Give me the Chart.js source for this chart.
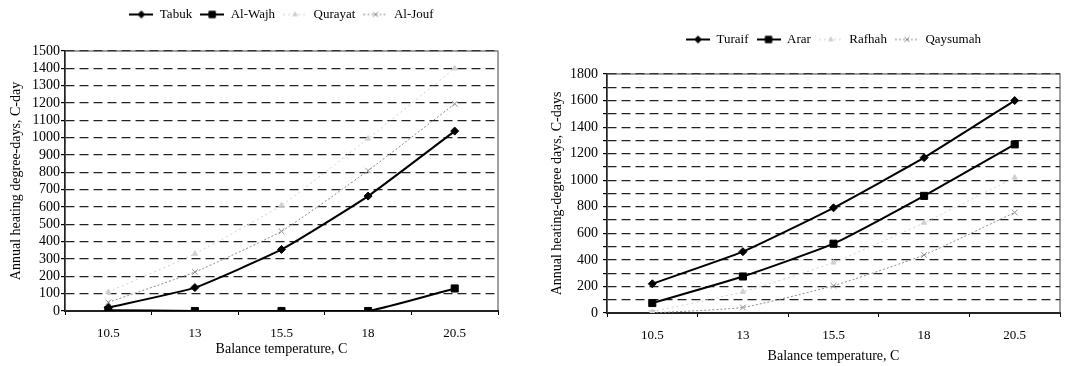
<!DOCTYPE html>
<html>
<head>
<meta charset="utf-8">
<script src="https://cdn.jsdelivr.net/npm/chart.js@4/dist/chart.umd.min.js"></script>
<style>
  body { margin: 0; background: #fff; }
  .box { position: absolute; top: 0; height: 366px; }
  #leftBox { left: 0; width: 530px; }
  #rightBox { left: 530px; width: 536px; }
</style>
</head>
<body>
<div class="box" id="leftBox"><canvas id="leftChart"></canvas></div>
<div class="box" id="rightBox"><canvas id="rightChart"></canvas></div>
<script>
const xLabels = ["10.5", "13", "15.5", "18", "20.5"];

// left panel
const tabuk = [20, 135, 355, 663, 1038];
const alWajh = [5, 0, 0, 0, 130];
const qurayat = [110, 330, 610, 995, 1400];
const alJouf = [50, 225, 460, 810, 1195];

// right panel
const turaif = [220, 462, 792, 1170, 1600];
const arar = [75, 275, 522, 882, 1270];
const rafhah = [10, 160, 380, 680, 1020];
const qaysumah = [0, 42, 205, 437, 757];

Chart.defaults.font.family = "'Liberation Serif', 'Times New Roman', serif";
Chart.defaults.font.size = 13;
Chart.defaults.color = "#000";

// series looks: [color, width, dash, marker, radius]
const looks = [
    ["#000", 2, [], "rectRot", 4],
    ["#000", 2, [], "rect", 5],
    ["#cfcfcf", 1, [2, 3], "triangle", 3],
    ["#8c8c8c", 1, [2, 2], "crossRot", 4]
];

function makeIcon(look) {
    let c = document.createElement("canvas");
    c.width = 24;
    c.height = 12;
    let ctx = c.getContext("2d");
    ctx.strokeStyle = look[0];
    ctx.fillStyle = look[0];
    ctx.lineWidth = look[1];
    ctx.setLineDash(look[2]);
    ctx.beginPath();
    ctx.moveTo(0, 6);
    ctx.lineTo(24, 6);
    ctx.stroke();
    ctx.setLineDash([]);
    ctx.lineWidth = 1;
    Chart.helpers.drawPoint(ctx, { pointStyle: look[3], radius: look[4] - 0.5, borderWidth: 1, rotation: 0 }, 12, 6);
    return c;
}
const icons = looks.map(makeIcon);

function makeDataset(name, values, i) {
    let l = looks[i];
    return {
        label: name,
        data: values,
        borderColor: l[0],
        backgroundColor: l[0],
        borderWidth: l[1],
        borderDash: l[2],
        pointStyle: l[3],
        pointRadius: l[4],
        pointBorderWidth: 1,
        tension: 0.15
    };
}

const frame = {
    id: "frame",
    beforeDatasetsDraw(chart) {
        let a = chart.chartArea;
        let ctx = chart.ctx;
        ctx.save();
        ctx.strokeStyle = "#444";
        ctx.lineWidth = 1;
        ctx.strokeRect(a.left, a.top, a.right - a.left, a.bottom - a.top);
        ctx.restore();
    }
};

function buildChart(id, sets, opt) {
    return new Chart(document.getElementById(id), {
        type: "line",
        data: { labels: xLabels, datasets: sets },
        plugins: [frame],
        options: {
            responsive: true,
            maintainAspectRatio: false,
            animation: false,
            layout: { padding: { top: opt.padTop, right: opt.padRight, left: 0, bottom: 0 } },
            plugins: {
                tooltip: { enabled: false },
                legend: {
                    position: "top",
                    fullSize: false,
                    labels: {
                        usePointStyle: true,
                        pointStyleWidth: 24,
                        padding: 8,
                        font: { size: 13 },
                        generateLabels: chart => Chart.defaults.plugins.legend.labels.generateLabels(chart)
                            .map((item, i) => Object.assign(item, { pointStyle: icons[i] }))
                    }
                }
            },
            scales: {
                x: {
                    offset: true,
                    grid: { display: true, drawOnChartArea: false, offset: true, tickLength: 4, color: "#000" },
                    border: { display: true, color: "#000", width: 2 },
                    ticks: { padding: 11, font: { size: 13 } },
                    title: { display: true, text: "Balance temperature, C", font: { size: 14 }, padding: { top: opt.xTitlePad, bottom: opt.xTitlePad } },
                    afterFit: s => { s.height = opt.xHeight; }
                },
                spacer: {
                    axis: "x",
                    type: "category",
                    position: "top",
                    grid: { display: false, drawTicks: false },
                    border: { display: false },
                    ticks: { display: false },
                    afterFit: s => { s.height = opt.gap; }
                },
                y: {
                    min: 0,
                    max: opt.yMax,
                    ticks: {
                        stepSize: 100,
                        autoSkip: false,
                        padding: opt.yTickPad,
                        font: { size: 14 },
                        callback: v => (v % opt.labelStep === 0 ? v : "")
                    },
                    grid: { color: "#222", lineWidth: 1.2, tickLength: 4, tickBorderDash: [], tickColor: "#000" },
                    border: { display: true, color: "#000", width: 1.5, dash: [9, 5] },
                    title: { display: true, text: opt.yTitle, font: { size: 14 }, padding: { top: opt.yTitlePad, bottom: 0 } },
                    afterFit: s => { s.width = opt.yWidth; }
                }
            }
        }
    });
}

buildChart("leftChart", [
    makeDataset("Tabuk", tabuk, 0),
    makeDataset("Al-Wajh", alWajh, 1),
    makeDataset("Qurayat", qurayat, 2),
    makeDataset("Al-Jouf", alJouf, 3)
], {
    padTop: 0, padRight: 32, gap: 20, xHeight: 55, xTitlePad: 8,
    yMax: 1500, labelStep: 100, yWidth: 65, yTickPad: 1, yTitlePad: 8,
    yTitle: "Annual heating degree-days, C-day"
});

buildChart("rightChart", [
    makeDataset("Turaif", turaif, 0),
    makeDataset("Arar", arar, 1),
    makeDataset("Rafhah", rafhah, 2),
    makeDataset("Qaysumah", qaysumah, 3)
], {
    padTop: 25, padRight: 1, gap: 18, xHeight: 53, xTitlePad: 1,
    yMax: 1800, labelStep: 200, yWidth: 77, yTickPad: 5, yTitlePad: 19,
    yTitle: "Annual heating-degree days, C-days"
});
</script>
</body>
</html>
